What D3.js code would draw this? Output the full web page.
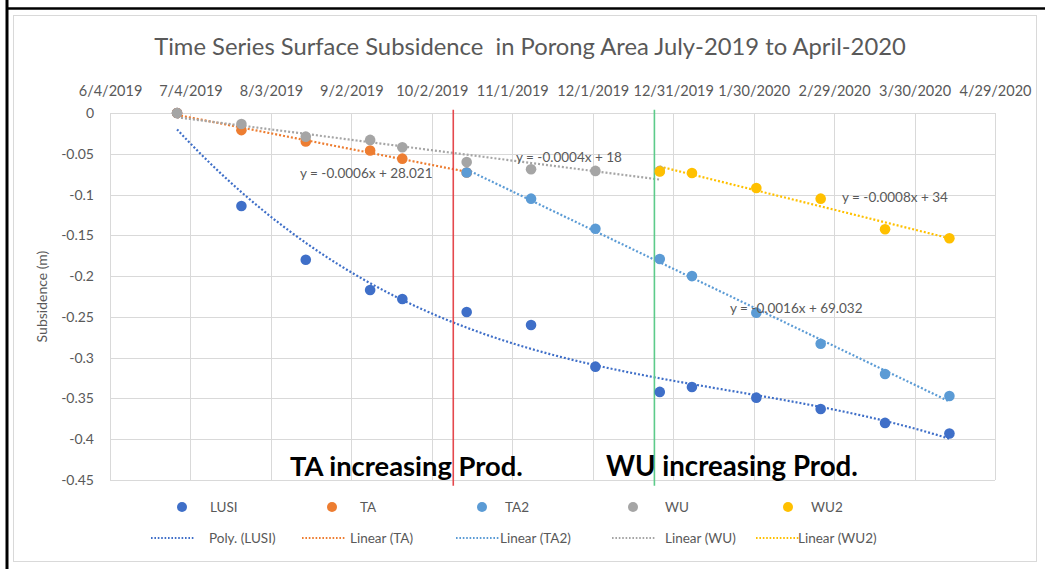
<!DOCTYPE html>
<html>
<head>
<meta charset="utf-8">
<script src="https://cdn.jsdelivr.net/npm/d3@7"></script>
<style>
  html, body { margin: 0; padding: 0; background: #fff; }
  svg { display: block; font-family: Lato, "Open Sans", sans-serif; }
</style>
</head>
<body>
<svg id="chart" width="1045" height="569"></svg>
<script>
// ---------------- DATA ----------------
const acqDates = ["2019-06-29","2019-07-23","2019-08-16","2019-09-09","2019-09-21","2019-10-15","2019-11-08","2019-12-02","2019-12-26","2020-01-07","2020-01-31","2020-02-24","2020-03-19","2020-04-12"];
const lusiValues = [0, -0.114, -0.180, -0.217, -0.228, -0.244, -0.260, -0.311, -0.342, -0.336, -0.349, -0.363, -0.380, -0.393];
const taDates    = acqDates.slice(0, 6);
const taValues   = [0, -0.021, -0.035, -0.046, -0.056, -0.073];
const ta2Dates   = acqDates.slice(5);
const ta2Values  = [-0.073, -0.105, -0.142, -0.179, -0.200, -0.245, -0.283, -0.320, -0.347];
const wuDates    = acqDates.slice(0, 9);
const wuValues   = [0, -0.0135, -0.029, -0.033, -0.042, -0.060, -0.069, -0.071, -0.071];
const wu2Dates   = acqDates.slice(8);
const wu2Values  = [-0.0716, -0.0735, -0.092, -0.105, -0.1425, -0.1535];

const xTickLabels = ["6/4/2019","7/4/2019","8/3/2019","9/2/2019","10/2/2019","11/1/2019","12/1/2019","12/31/2019","1/30/2020","2/29/2020","3/30/2020","4/29/2020"];
const yTicks = [0, -0.05, -0.1, -0.15, -0.2, -0.25, -0.3, -0.35, -0.4, -0.45];

const seriesNames = ["LUSI", "TA", "TA2", "WU", "WU2"];
const trendNames  = ["Poly. (LUSI)", "Linear (TA)", "Linear (TA2)", "Linear (WU)", "Linear (WU2)"];
const equations   = ["y = -0.0006x + 28.021", "y = -0.0004x + 18", "y = -0.0008x + 34", "y = -0.0016x + 69.032"];
const markerDates = ["2019-10-10", "2019-12-24"];   // red (TA) and green (WU) production-change lines
const markerTexts = ["TA increasing Prod.", "WU increasing Prod."];
const titleText = "Time Series Surface Subsidence  in Porong Area July-2019 to April-2020";
const yTitle = "Subsidence (m)";

// ---------------- SETUP ----------------
const parse = d3.utcParse("%Y-%m-%d");
const parseTick = d3.utcParse("%m/%d/%Y");
const tickDates = xTickLabels.map(parseTick);

const colors = { LUSI: "#3F6FC8", TA: "#ED7D31", TA2: "#5B9BD5", WU: "#A5A5A5", WU2: "#FFC000" };
const textGray = "#595959";

const svg = d3.select("#chart");
const L = 110, R = 995, T = 113, B = 480;

const x = d3.scaleUtc().domain([tickDates[0], tickDates[tickDates.length - 1]]).range([L, R]);
const y = d3.scaleLinear().domain([-0.45, 0]).range([B, T]);

// document frame
svg.append("line").attr("x1", 7).attr("x2", 7).attr("y1", 0).attr("y2", 569).attr("stroke", "#000").attr("stroke-width", 3);
svg.append("line").attr("x1", 6).attr("x2", 1045).attr("y1", 8.5).attr("y2", 8.5).attr("stroke", "#000").attr("stroke-width", 2.5);
// chart border
svg.append("rect").attr("x", 13.5).attr("y", 15.5).attr("width", 1023).attr("height", 546)
  .attr("fill", "#fff").attr("stroke", "#D9D9D9").attr("stroke-width", 1);

function fitWidth(sel, target) {
  const fs = parseFloat(sel.attr("font-size"));
  const w = sel.node().getComputedTextLength();
  if (w > 0) sel.attr("font-size", fs * target / w);
}

// title
const title = svg.append("text").attr("x", 530).attr("y", 55).attr("text-anchor", "middle")
  .attr("font-size", 21).attr("fill", textGray).style("white-space", "pre").text(titleText);
fitWidth(title, 752);

// gridlines
const grid = svg.append("g").attr("stroke", "#D9D9D9").attr("stroke-width", 1);
grid.selectAll(".h").data(yTicks).join("line")
  .attr("x1", L).attr("x2", R).attr("y1", d => Math.round(y(d)) + 0.5).attr("y2", d => Math.round(y(d)) + 0.5);
grid.selectAll(".v").data(tickDates).join("line")
  .attr("y1", T).attr("y2", B).attr("x1", d => Math.round(x(d)) + 0.5).attr("x2", d => Math.round(x(d)) + 0.5);

// axes
const fmtDate = d3.utcFormat("%-m/%-d/%Y");
const xAxis = svg.append("g").attr("transform", `translate(0,${T})`)
  .call(d3.axisTop(x).tickValues(tickDates).tickFormat(fmtDate).tickSize(0).tickPadding(17));
xAxis.select(".domain").remove();
xAxis.selectAll("text").attr("fill", textGray).attr("font-size", 14.5).attr("font-family", "Lato");

const yAxis = svg.append("g").attr("transform", `translate(${L},0)`)
  .call(d3.axisLeft(y).tickValues(yTicks).tickFormat(d => String(+d.toFixed(2))).tickSize(0).tickPadding(16));
yAxis.select(".domain").remove();
yAxis.selectAll("text").attr("fill", textGray).attr("font-size", 14).attr("font-family", "Lato");

svg.append("text").attr("transform", `translate(47,${(T + B) / 2}) rotate(-90)`).attr("text-anchor", "middle")
  .attr("font-size", 14).attr("fill", textGray).text(yTitle);

// ---------------- TRENDLINES ----------------
const DAY = 86400000;
function linearFit(ds, vs) {
  const t = ds.map(d => parse(d).getTime() / DAY);
  const tm = d3.mean(t), vm = d3.mean(vs);
  let sxy = 0, sxx = 0;
  t.forEach((ti, i) => { sxy += (ti - tm) * (vs[i] - vm); sxx += (ti - tm) ** 2; });
  const b = sxy / sxx, a = vm - b * tm;
  return tt => a + b * tt;
}
function polyFit(order) {
  return function (ds, vs) {
    const t0 = parse(ds[0]).getTime() / DAY;
    const t = ds.map(d => (parse(d).getTime() / DAY - t0) / 100);
    const n = order + 1;
    const M = d3.range(n).map(r => d3.range(n).map(c => d3.sum(t, ti => ti ** (r + c))));
    const Y = d3.range(n).map(r => d3.sum(t, (ti, i) => vs[i] * ti ** r));
    for (let i = 0; i < n; i++) {
      let p = i;
      for (let k = i + 1; k < n; k++) if (Math.abs(M[k][i]) > Math.abs(M[p][i])) p = k;
      [M[i], M[p]] = [M[p], M[i]]; [Y[i], Y[p]] = [Y[p], Y[i]];
      for (let k = i + 1; k < n; k++) {
        const f = M[k][i] / M[i][i];
        for (let j = i; j < n; j++) M[k][j] -= f * M[i][j];
        Y[k] -= f * Y[i];
      }
    }
    const c = new Array(n).fill(0);
    for (let i = n - 1; i >= 0; i--) {
      let s = Y[i];
      for (let j = i + 1; j < n; j++) s -= M[i][j] * c[j];
      c[i] = s / M[i][i];
    }
    return tt => d3.sum(c, (ci, k) => ci * ((tt - t0) / 100) ** k);
  };
}
function trendPoints(ds, f) {
  const a = parse(ds[0]).getTime() / DAY, b = parse(ds[ds.length - 1]).getTime() / DAY;
  return d3.range(a, b + 0.001, 1).map(tt => [tt, f(tt)]);
}
const trendLine = d3.line().x(d => x(new Date(d[0] * DAY))).y(d => y(d[1]));

const seriesDefs = [
  { name: "LUSI", dates: acqDates, values: lusiValues, fit: polyFit(3) },
  { name: "TA",   dates: taDates,  values: taValues,   fit: linearFit },
  { name: "TA2",  dates: ta2Dates, values: ta2Values,  fit: linearFit },
  { name: "WU",   dates: wuDates,  values: wuValues,   fit: linearFit },
  { name: "WU2",  dates: wu2Dates, values: wu2Values,  fit: linearFit }
];

const dash = "2,2";
seriesDefs.forEach(s => {
  const f = s.fit(s.dates, s.values);
  svg.append("path").datum(trendPoints(s.dates, f)).attr("d", trendLine)
    .attr("fill", "none").attr("stroke", colors[s.name]).attr("stroke-width", 2.2).attr("stroke-dasharray", dash);
});

// production-change vertical lines
const markerColors = ["#E5484D", "#5CCB8A"];
markerDates.forEach((d, i) => {
  const xx = x(parse(d));
  svg.append("line").attr("x1", xx).attr("x2", xx).attr("y1", y(0.004)).attr("y2", y(-0.457))
    .attr("stroke", markerColors[i]).attr("stroke-width", 1.6);
});

// points
seriesDefs.forEach(s => {
  svg.append("g").selectAll("circle").data(s.values).join("circle")
    .attr("cx", (v, i) => x(parse(s.dates[i]))).attr("cy", v => y(v)).attr("r", 5.3)
    .attr("fill", colors[s.name]);
});

// trend equations
const eqPos = [[300, 178], [516, 162], [842, 202], [730, 313]];
equations.forEach((e, i) => {
  svg.append("text").attr("x", eqPos[i][0]).attr("y", eqPos[i][1]).attr("font-size", 13.5)
    .attr("fill", textGray).text(e);
});

// annotations
const annPos = [[290, 476, 233], [606, 476, 252]];
markerTexts.forEach((t, i) => {
  const tx = svg.append("text").attr("x", annPos[i][0]).attr("y", annPos[i][1]).attr("font-size", 27)
    .attr("font-weight", "bold").attr("fill", "#000").text(t);
  fitWidth(tx, annPos[i][2]);
});

// ---------------- LEGEND ----------------
const legMarkerX = [182, 332, 482, 633, 788];
const legTextX1  = [210, 360, 505, 665, 811];
const legLineX   = [151, 302, 456, 612, 756];
const legTextX2  = [209, 350, 500, 665, 798];
const row1 = 507, row2 = 538;
seriesNames.forEach((n, i) => {
  svg.append("circle").attr("cx", legMarkerX[i]).attr("cy", row1).attr("r", 5).attr("fill", colors[n]);
  svg.append("text").attr("x", legTextX1[i]).attr("y", row1 + 4.5).attr("font-size", 13.5).attr("fill", textGray).text(n);
  svg.append("line").attr("x1", legLineX[i]).attr("x2", legLineX[i] + 44).attr("y1", row2).attr("y2", row2)
    .attr("stroke", colors[n]).attr("stroke-width", 2).attr("stroke-dasharray", "1.6,1.8");
  svg.append("text").attr("x", legTextX2[i]).attr("y", row2 + 4.5).attr("font-size", 13.5).attr("fill", textGray).text(trendNames[i]);
});
</script>
</body>
</html>
